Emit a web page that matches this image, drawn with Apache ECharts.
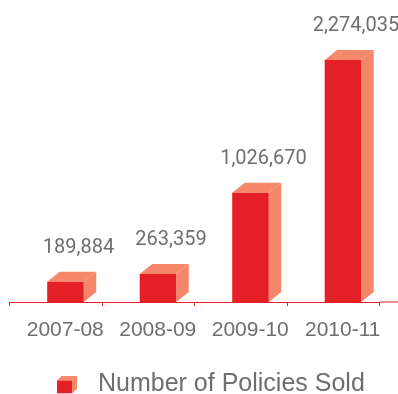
<!DOCTYPE html>
<html>
<head>
<meta charset="utf-8">
<script src="https://cdn.jsdelivr.net/npm/echarts@6/dist/echarts.min.js"></script>
<style>
html,body{margin:0;padding:0;background:#fff;}
#main{width:398px;height:394px;}
</style>
</head>
<body>
<div id="main"></div>
<script>
const categories = ['2007-08', '2008-09', '2009-10', '2010-11'];
const policiesSold = [189884, 263359, 1026670, 2274035];
const seriesName = 'Number of Policies Sold';

const FRONT = '#e41f26';
const SIDE = '#f5866a';
const TOP = '#f6886c';
const GRAY = '#6d6e71';

const iconSvg = '<svg xmlns="http://www.w3.org/2000/svg" width="20" height="18" viewBox="0 0 20 18">' +
  '<polygon points="0,5 5,0 20,0 15,5" fill="' + TOP + '"/>' +
  '<polygon points="15,5 20,0 20,13 15,18" fill="' + SIDE + '"/>' +
  '<rect x="0" y="5" width="15" height="13" fill="' + FRONT + '"/></svg>';
const iconUrl = 'image://data:image/svg+xml;charset=utf-8,' + encodeURIComponent(iconSvg);

function renderItem(params, api) {
  const idx = api.value(0);
  const val = api.value(1);
  const top = api.coord([idx, val]);
  const base = api.coord([idx, 0]);
  const band = api.size([1, 0])[0];
  const w = band * 0.395;
  const off = band * 0.105;
  const dx = band * 0.135;
  const dy = band * 0.108;
  const x0 = top[0] + off - w / 2;
  const x1 = x0 + w;
  const yt = top[1], yb = base[1];
  return {
    type: 'group',
    children: [
      { type: 'polygon', shape: { points: [[x1, yt], [x1 + dx, yt - dy], [x1 + dx, yb - dy], [x1, yb]] }, style: { fill: SIDE } },
      { type: 'polygon', shape: { points: [[x0, yt], [x0 + dx, yt - dy], [x1 + dx, yt - dy], [x1, yt]] }, style: { fill: TOP } },
      { type: 'rect', shape: { x: x0, y: yt, width: w, height: yb - yt }, style: { fill: FRONT } },
      { type: 'text', style: {
          text: Number(val).toLocaleString('en-US'),
          x: x0 + w / 2 + 13, y: yt - 34,
          align: 'center', verticalAlign: 'middle',
          fill: GRAY, fontSize: 20,
          fontFamily: '"Roboto", sans-serif'
      } }
    ]
  };
}

const chart = echarts.init(document.getElementById('main'), null, { renderer: 'canvas' });
chart.setOption({
  animation: false,
  backgroundColor: '#fff',
  grid: { left: 9.5, right: 18.5, top: 36, bottom: 92, containLabel: false },
  xAxis: {
    type: 'category',
    data: categories,
    axisLine: { lineStyle: { color: FRONT, width: 1 } },
    axisTick: { show: true, length: 4, lineStyle: { color: FRONT } },
    axisLabel: {
      interval: 0, hideOverlap: false,
      color: GRAY, fontSize: 21, fontFamily: '"Liberation Sans", Arial, sans-serif',
      margin: 18, padding: [0, 0, 0, 19]
    },
    splitLine: { show: false }
  },
  yAxis: { type: 'value', min: 0, max: 2500000, show: false },
  legend: {
    data: [{ name: seriesName, icon: iconUrl }],
    left: 57, top: 372, padding: 0,
    itemWidth: 20, itemHeight: 18,
    textStyle: { color: GRAY, fontSize: 25, fontFamily: '"Liberation Sans", Arial, sans-serif', padding: [0, 0, 0, 16] },
    selectedMode: false
  },
  graphic: [
    { type: 'line', shape: { x1: 379.5, y1: 302, x2: 398, y2: 302 }, style: { stroke: FRONT, lineWidth: 1 }, z: 1 }
  ],
  series: [{
    type: 'custom',
    name: seriesName,
    renderItem: renderItem,
    data: policiesSold.map((v, i) => [i, v]),
    encode: { x: 0, y: 1 }
  }]
});
</script>
</body>
</html>
